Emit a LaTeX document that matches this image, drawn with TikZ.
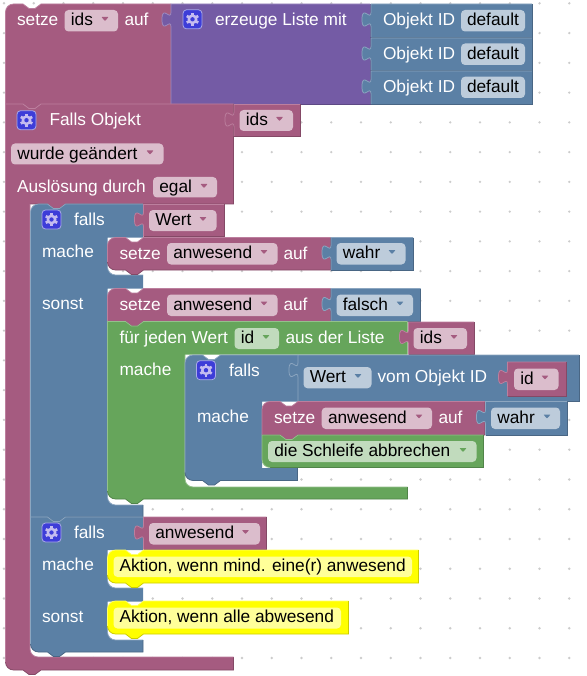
\documentclass[tikz,border=0pt]{standalone}
\usepackage{fontspec}
\setmainfont{Liberation Sans}
\definecolor{roseF}{HTML}{A55B80}\definecolor{roseL}{HTML}{BC7F9E}\definecolor{roseD}{HTML}{844966}\definecolor{roseB}{HTML}{DBBDCC}
\definecolor{blueF}{HTML}{5B80A5}\definecolor{blueL}{HTML}{8CA6C0}\definecolor{blueD}{HTML}{496684}\definecolor{blueB}{HTML}{BDCCDB}
\definecolor{greenF}{HTML}{66A55B}\definecolor{greenL}{HTML}{94C08C}\definecolor{greenD}{HTML}{518449}\definecolor{greenB}{HTML}{C1DBBD}
\definecolor{purpF}{HTML}{745BA5}\definecolor{purpL}{HTML}{9E8CC0}\definecolor{purpD}{HTML}{5D4984}
\definecolor{yelF}{HTML}{FFFF00}\definecolor{yelL}{HTML}{FFFF66}\definecolor{yelD}{HTML}{CCCC00}\definecolor{yelB}{HTML}{FFFF99}
\definecolor{gearB}{HTML}{3D3DD8}\definecolor{gearL}{HTML}{A9A9E8}\definecolor{gearG}{HTML}{C4BCF0}
\newcounter{nn}
\newcommand\cTL[3]{.. controls (#1,{#2+#3*.45}) and ({#1+#3*.45},#2) .. ({#1+#3},#2)}
\newcommand\cBL[3]{.. controls ({#1+#3*.45},#2) and (#1,{#2-#3*.45}) .. (#1,{#2-#3})}
\newcommand\cIB[3]{.. controls (#1,{#2-#3*.45}) and ({#1+#3*.45},#2) .. ({#1+#3},#2)}
\newcommand\notchR[2]{-- (#1,#2) -- ({#1+6},{#2+4.5}) -- ({#1+12},{#2+4.5}) -- ({#1+18},#2)}
\newcommand\tabL[2]{-- ({#1+18},#2) -- ({#1+12},{#2+4.5}) -- ({#1+6},{#2+4.5}) -- (#1,#2)}
\newcommand\vtab[2]{-- (#1,#2) .. controls (#1,{#2+10}) and ({#1-9},{#2-8}) .. ({#1-9},{#2+7.5}) .. controls ({#1-9},{#2+23}) and (#1,{#2+5}) .. (#1,{#2+15})}
% value block: colour, x1,y1,x2,y2,tab y
\newcommand\val[6]{%
  \fill[#1F] (#2,#3) \vtab{#2}{#6} -- (#2,#5) -- (#4,#5) -- (#4,#3) -- cycle;
  \draw[edge,#1L] (#4,#3) -- (#2,#3) \vtab{#2}{#6} -- (#2,#5);
  \draw[edge,#1D] (#2,#5) -- (#4,#5) -- (#4,#3);}
% statement block: colour, x1,y1,x2,y2,rTop,rBottom
\newcommand\stmt[7]{%
  \fill[#1F] (#2,{#3+#6}) \cTL{#2}{#3}{#6} \notchR{#2+18}{#3} -- (#4,#3) -- (#4,#5) \tabL{#2+18}{#5} -- ({#2+#7},#5) \cBL{#2}{#5}{#7} -- cycle;
  \draw[edge,#1L] (#2,{#5-#7}) -- (#2,{#3+#6}) \cTL{#2}{#3}{#6} \notchR{#2+18}{#3} -- (#4,#3);
  \draw[edge,#1D] (#4,#3) -- (#4,#5) \tabL{#2+18}{#5} -- ({#2+#7},#5) \cBL{#2}{#5}{#7};}
\newcommand\txt[3]{\stepcounter{nn}\node[lbl,white] (n\arabic{nn}) at (#1,#2) {#3};}
\newcommand\btxt[3]{\stepcounter{nn}\node[lbl,black] (n\arabic{nn}) at (#1,#2) {#3};}
\newcommand\fld[5]{\fill[#1B,rounded corners=4pt] (#2,#3) rectangle (#4,#5);}
% dropdown: colour, x1,y1,x2,y2,text,arrow x
\newcommand\ddf[7]{\fld{#1}{#2}{#3}{#4}{#5}\btxt{#2+6.3}{#3+15.3}{#6}%
  \fill[#1F,rounded corners=.6pt] ({#7-3.6},{#3+7}) -- ({#7+3.6},{#3+7}) -- (#7,{#3+11}) -- cycle;}
\newcommand\gear[2]{%
  \draw[fill=gearB,draw=gearL,line width=.8pt,rounded corners=3.5pt] (#1,#2) rectangle ({#1+19},{#2+19});
  \foreach \a in {30,90,150}{\draw[gearG,line width=2.7pt] ({#1+9.5+6.6*cos(\a)},{#2+9.5+6.6*sin(\a)}) -- ({#1+9.5-6.6*cos(\a)},{#2+9.5-6.6*sin(\a)});}
  \fill[gearG] ({#1+9.5},{#2+9.5}) circle[radius=5];
  \fill[gearB] ({#1+9.5},{#2+9.5}) circle[radius=2.2];}
\tikzset{edge/.style={line width=.75pt,line join=miter},
  lbl/.style={anchor=base west,inner sep=0pt,outer sep=0pt,yshift=-.6pt,font=\fontsize{17.3}{20}\selectfont}}
\begin{document}
\begin{tikzpicture}[x=1pt,y=-1pt]
\useasboundingbox (0,0) rectangle (586,676);
\fill[white] (0,0) rectangle (586,676);
\foreach \i in {0,...,19}{\foreach \j in {0,...,22}{\fill[black!20] ({4+29.75*\i},{3.3+29.76*\j}) circle[radius=1.3];}}
% ---- setze ids auf
\fill[roseF] (5.5,12) \cTL{5.5}{4}{8} \notchR{23}{4} -- (171,4) -- (171,104) \tabL{23}{104} -- (5.5,104) -- cycle;
\draw[edge,roseL] (5.5,104) -- (5.5,12) \cTL{5.5}{4}{8} \notchR{23}{4} -- (171,4);
\txt{17}{25}{setze}
\ddf{rose}{64.5}{10}{118}{31.5}{ids}{105}
\txt{124.5}{25}{auf}
% ---- erzeuge Liste
\val{purp}{171}{4}{370}{104}{12}
\gear{183}{9.8}
\txt{215}{25}{erzeuge Liste mit}
\val{blue}{371}{4}{532}{37}{12}
\txt{383}{25}{Objekt ID}\fld{blue}{461}{10}{525}{31.5}\btxt{467}{25}{default}
\val{blue}{371}{38}{532}{70.5}{46}
\txt{383}{58.5}{Objekt ID}\fld{blue}{461}{43.5}{525}{65}\btxt{467}{58.5}{default}
\val{blue}{371}{71}{532}{104}{79}
\txt{383}{92}{Objekt ID}\fld{blue}{461}{76.7}{525}{98}\btxt{467}{92}{default}
% ---- Falls Objekt (C shape)
\fill[roseF] (5.5,104) \notchR{23}{104} -- (233.5,104) -- (233.5,204) \tabL{47.5}{204} -- (30,204) -- (30,649) \cIB{30}{657}{8} -- (233.5,657) -- (233.5,670) \tabL{23}{670} -- (13.5,670) \cBL{5.5}{670}{8} -- cycle;
\draw[edge,roseL] (5.5,662) -- (5.5,104) \notchR{23}{104} -- (233.5,104);
\draw[edge,roseD] (233.5,104) -- (233.5,204) \tabL{47.5}{204} -- (30,204);
\draw[edge,roseD] (233.5,657) -- (233.5,670) \tabL{23}{670} -- (13.5,670) \cBL{5.5}{670}{8};
\draw[edge,roseL] (30,204) -- (30,649) \cIB{30}{657}{8} -- (233.5,657);
\gear{17}{110.7}
\txt{49.5}{125}{Falls Objekt}
\val{rose}{234}{104.5}{300}{136.5}{112}
\ddf{rose}{239.5}{110}{293}{131}{ids}{279.5}
\ddf{rose}{11}{143.5}{163.5}{164.5}{wurde geändert}{150}
\txt{17}{192}{Auslösung durch}
\ddf{rose}{153}{177}{217}{197.5}{egal}{204}
% ---- falls 1 (blue)
\fill[blueF] (30.5,212) \cTL{30.5}{204}{8} \notchR{47.5}{204} -- (143,204) -- (143,237.5) -- (107.5,237.5) -- (107.5,267) \cIB{107.5}{275}{8} -- (143,275) -- (143,288.5) -- (107.5,288.5) -- (107.5,497) \cIB{107.5}{505}{8} -- (143,505) -- (143,517) \tabL{47.5}{517} -- (30.5,517) -- cycle;
\draw[edge,blueL] (30.5,517) -- (30.5,212) \cTL{30.5}{204}{8} \notchR{47.5}{204} -- (143,204);
\draw[edge,blueL] (107.5,260) -- (107.5,267) \cIB{107.5}{275}{8} -- (143,275);
\draw[edge,blueL] (107.5,488) -- (107.5,497) \cIB{107.5}{505}{8} -- (143,505);
\draw[edge,blueD] (143,505) -- (143,517) \tabL{47.5}{517};
\gear{42}{210}
\txt{74}{225}{falls}
\txt{42}{257}{mache}
\txt{42}{308.5}{sonst}
\val{rose}{143.5}{204.5}{224}{236.5}{212}
\ddf{rose}{149}{210}{216.5}{231}{Wert}{203}
% setze anwesend auf wahr
\stmt{rose}{107.5}{237.5}{330.5}{270}{8}{8}
\txt{119.5}{258.5}{setze}
\ddf{rose}{167}{243}{277.5}{264.5}{anwesend}{264}
\txt{283.5}{258.5}{auf}
\val{blue}{331}{237.5}{413}{270}{245}
\ddf{blue}{336.5}{243}{405.5}{264.5}{wahr}{392}
% setze anwesend auf falsch
\stmt{rose}{107.5}{288.5}{330.5}{321.5}{8}{0}
\txt{119.5}{310}{setze}
\ddf{rose}{167}{294.5}{277.5}{316}{anwesend}{264}
\txt{283.5}{310}{auf}
\val{blue}{331}{288.5}{420.5}{321.5}{296.5}
\ddf{blue}{336.5}{294.5}{413}{316}{falsch}{400}
% fuer jeden Wert (C shape)
\fill[greenF] (107.5,321.5) \notchR{125.5}{321.5} -- (407.5,321.5) -- (407.5,354.5) -- (185,354.5) -- (185,479) \cIB{185}{487}{8} -- (407.5,487) -- (407.5,499) \tabL{125.5}{499} -- (115.5,499) \cBL{107.5}{499}{8} -- cycle;
\draw[edge,greenL] (107.5,491) -- (107.5,321.5) \notchR{125.5}{321.5} -- (407.5,321.5);
\draw[edge,greenL] (185,354.5) -- (185,479) \cIB{185}{487}{8} -- (407.5,487);
\draw[edge,greenD] (407.5,487) -- (407.5,499) \tabL{125.5}{499} -- (115.5,499) \cBL{107.5}{499}{8};
\txt{119.5}{342.5}{für jeden Wert}
\ddf{green}{234.5}{328}{279}{349}{id}{266}
\txt{285.5}{342.5}{aus der Liste}
\val{rose}{408.5}{322}{474}{354.5}{329.5}
\ddf{rose}{413.5}{328}{467}{349}{ids}{454}
\txt{119.5}{375}{mache}
% inner falls
\fill[blueF] (185,363) \cTL{185}{355}{8} \notchR{202.5}{355} -- (298,355) -- (298,401.5) -- (262,401.5) -- (262,468) -- (297.5,468) -- (297.5,480.5) \tabL{202.5}{480.5} -- (193,480.5) \cBL{185}{480.5}{8} -- cycle;
\draw[edge,blueL] (185,472.5) -- (185,363) \cTL{185}{355}{8} \notchR{202.5}{355} -- (298,355);
\draw[edge,blueD] (297.5,468) -- (297.5,480.5) \tabL{202.5}{480.5} -- (193,480.5) \cBL{185}{480.5}{8};
\gear{196.5}{360.7}
\txt{229}{376}{falls}
\txt{197}{422}{mache}
\val{blue}{298}{355}{579}{401}{362.5}
\ddf{blue}{303.5}{367}{371.5}{388.3}{Wert}{358}
\txt{377.5}{382}{vom Objekt ID}
\val{rose}{507.5}{362}{566.5}{396}{369.5}
\ddf{rose}{514}{368.5}{558.5}{390}{id}{545}
% inner setze
\stmt{rose}{262}{401.5}{485}{435}{8}{0}
\txt{274}{423}{setze}
\ddf{rose}{321.7}{407.5}{432}{429}{anwesend}{419}
\txt{438.5}{423}{auf}
\val{blue}{485.5}{401.5}{567}{435}{409.5}
\ddf{blue}{491}{407.5}{560}{429}{wahr}{547}
% die Schleife abbrechen (no bottom connector)
\fill[greenF] (262,435) \notchR{280}{435} -- (483.5,435) -- (483.5,467.5) -- (270,467.5) \cBL{262}{467.5}{8} -- cycle;
\draw[edge,greenL] (262,459.5) -- (262,435) \notchR{280}{435} -- (483.5,435);
\draw[edge,greenD] (483.5,435) -- (483.5,467.5) -- (270,467.5);
\draw[edge,greenL] (270,467.5) \cBL{262}{467.5}{8};
\ddf{green}{268}{441}{476.5}{462}{die Schleife abbrechen}{463}
% ---- falls 2 (blue)
\fill[blueF] (30.5,517) \notchR{47.5}{517} -- (143,517) -- (143,550) -- (107.5,550) -- (107.5,580) \cIB{107.5}{588}{8} -- (143,588) -- (143,601.5) -- (107.5,601.5) -- (107.5,632) \cIB{107.5}{640}{8} -- (143,640) -- (143,652) \tabL{47.5}{652} -- (38.5,652) \cBL{30.5}{652}{8} -- cycle;
\draw[edge,blueL] (30.5,644) -- (30.5,517) \notchR{47.5}{517} -- (143,517);
\draw[edge,blueL] (107.5,575) -- (107.5,580) \cIB{107.5}{588}{8} -- (143,588);
\draw[edge,blueL] (107.5,627) -- (107.5,632) \cIB{107.5}{640}{8} -- (143,640);
\draw[edge,blueD] (143,640) -- (143,652) \tabL{47.5}{652} -- (38.5,652) \cBL{30.5}{652}{8};
\gear{42}{523}
\txt{74}{538}{falls}
\txt{42}{570}{mache}
\txt{42}{622}{sonst}
\val{rose}{143.5}{517}{266.5}{549.5}{525}
\ddf{rose}{149}{523}{260}{544.5}{anwesend}{245.5}
% yellow comments
\stmt{yel}{107.5}{550}{418.5}{583}{8}{8}
\fld{yel}{113.5}{556.5}{412}{577}\btxt{119.5}{571}{Aktion, wenn mind. eine(r) anwesend}
\stmt{yel}{107.5}{601}{348.5}{634}{8}{8}
\fld{yel}{113.5}{607.5}{341}{628.5}\btxt{119.5}{622}{Aktion, wenn alle abwesend}
\end{tikzpicture}
\end{document}
